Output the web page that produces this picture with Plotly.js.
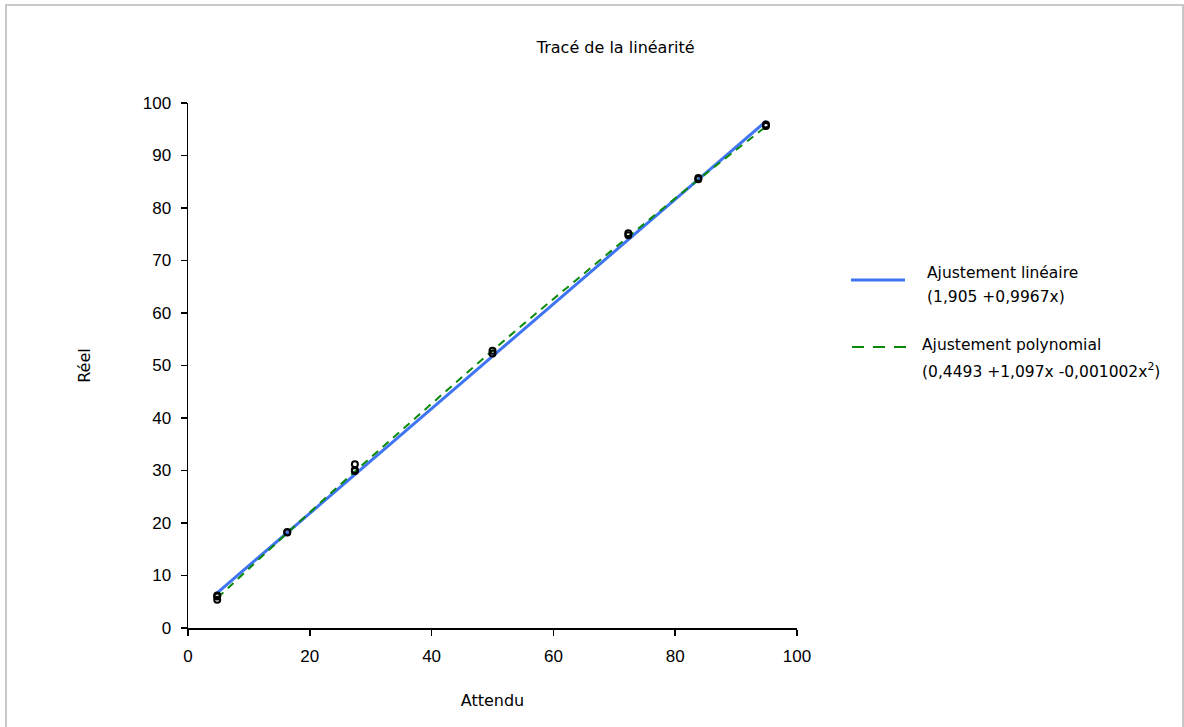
<!DOCTYPE html>
<html>
<head>
<meta charset="utf-8">
<script src="https://cdn.plot.ly/plotly-3.0.1.min.js"></script>
<style>
  html, body { margin: 0; padding: 0; background: #fff; overflow: hidden; }
  #wrap { position: relative; width: 1184px; height: 727px; }
  #chart { width: 1184px; height: 727px; }
  #frame { position: absolute; left: 5px; top: 4px; width: 1175px; height: 800px;
           border: 2px solid #c8c8c8; pointer-events: none; }
</style>
</head>
<body>
<div id="wrap">
<div id="chart"></div>
<div id="frame"></div>
</div>
<script>
// Observed points (Attendu vs Réel)
const obsX = [4.8, 4.8, 4.8, 16.3, 16.3, 27.4, 27.4, 27.4, 50, 50, 72.3, 72.3, 83.8, 83.8, 94.9, 94.9];
const obsY = [6.2, 5.4, 6.0, 18.3, 18.2, 31.2, 30.1, 29.9, 52.3, 52.8, 75.2, 74.8, 85.7, 85.5, 95.6, 95.9];

// Linear fit line (1,905 + 0,9967x), end points
const linX = [4.8, 95];
const linY = [6.7, 96.6];

// Polynomial fit curve (0,4493 + 1,097x - 0,001002x²)
const polyX = [4.8, 15, 25, 35, 45, 55, 65, 75, 85, 95];
const polyY = [5.7, 16.7, 27.3, 37.6, 47.8, 57.8, 67.5, 77.1, 86.5, 95.6];

const xTicks = [0, 20, 40, 60, 80, 100];
const yTicks = [0, 10, 20, 30, 40, 50, 60, 70, 80, 90, 100];

const legendLabels = [
  ['Ajustement linéaire', '(1,905 +0,9967x)'],
  ['Ajustement polynomial', '(0,4493 +1,097x -0,001002x<sup>2</sup>)']
];

const fontFam = '"DejaVu Sans", Verdana, sans-serif';
const tickFam = '"Liberation Sans", Arial, sans-serif';

const blue = '#3f74f2';
const green = '#0a8a0a';

const traces = [
  {
    x: linX, y: linY, mode: 'lines', type: 'scatter', showlegend: false,
    name: legendLabels[0].join(' '),
    line: { color: blue, width: 3 }
  },
  {
    x: polyX, y: polyY, mode: 'lines', type: 'scatter', showlegend: false,
    name: legendLabels[1].join(' '),
    line: { shape: 'spline', color: green, width: 2, dash: '8px,6px' }
  },
  {
    x: obsX, y: obsY, mode: 'markers', type: 'scatter', showlegend: false,
    marker: { symbol: 'circle-open', size: 6, color: '#000', line: { width: 2, color: '#000' } }
  }
];

// pixel -> paper helpers (plot area: x 188..797, y 103..628)
const px = v => (v - 188) / 609;
const py = v => (628 - v) / 525;

const legFont = { family: fontFam, size: 15.5, color: '#000' };
const annotations = [
  { text: legendLabels[0][0], x: px(925), y: py(273) },
  { text: legendLabels[0][1], x: px(925), y: py(297) },
  { text: legendLabels[1][0], x: px(920), y: py(345) },
  { text: legendLabels[1][1], x: px(920), y: py(370) }
].map(a => Object.assign({ xref: 'paper', yref: 'paper', xanchor: 'left', yanchor: 'middle',
  showarrow: false, font: legFont }, a));

const layout = {
  width: 1184, height: 727,
  margin: { l: 188, r: 387, t: 103, b: 99 },
  paper_bgcolor: '#fff', plot_bgcolor: '#fff',
  font: { family: fontFam, color: '#000' },
  title: { text: 'Tracé de la linéarité', x: 0.52, xref: 'container', y: 0.935, yref: 'container', yanchor: 'middle',
           font: { family: fontFam, size: 16, color: '#000' } },
  xaxis: {
    range: [0, 100], tickvals: xTicks, ticktext: xTicks.map(String),
    showgrid: false, zeroline: false, showline: true, linecolor: '#000', linewidth: 1.5,
    ticks: 'outside', ticklen: 6, tickwidth: 1.5, tickcolor: '#000', ticklabelstandoff: 6,
    tickfont: { family: tickFam, size: 17, color: '#000' },
    title: { text: 'Attendu', font: { family: fontFam, size: 16, color: '#000' }, standoff: 30 }
  },
  yaxis: {
    range: [0, 100], tickvals: yTicks, ticktext: yTicks.map(String),
    showgrid: false, zeroline: false, showline: true, linecolor: '#000', linewidth: 1.5,
    ticks: 'outside', ticklen: 6, tickwidth: 1.5, tickcolor: '#000', ticklabelstandoff: 6,
    tickfont: { family: tickFam, size: 17, color: '#000' },
    title: { text: 'Réel', font: { family: fontFam, size: 16, color: '#000' }, standoff: 48 }
  },
  annotations: annotations,
  shapes: [
    { type: 'line', xref: 'paper', yref: 'paper', x0: px(851), x1: px(905), y0: py(280), y1: py(280),
      line: { color: blue, width: 3 } },
    { type: 'line', xref: 'paper', yref: 'paper', x0: px(852), x1: px(906), y0: py(347), y1: py(347),
      line: { color: green, width: 2, dash: '12px,9px' } }
  ],
  showlegend: false
};

Plotly.newPlot('chart', traces, layout, { displayModeBar: false, staticPlot: true });
</script>
</body>
</html>
